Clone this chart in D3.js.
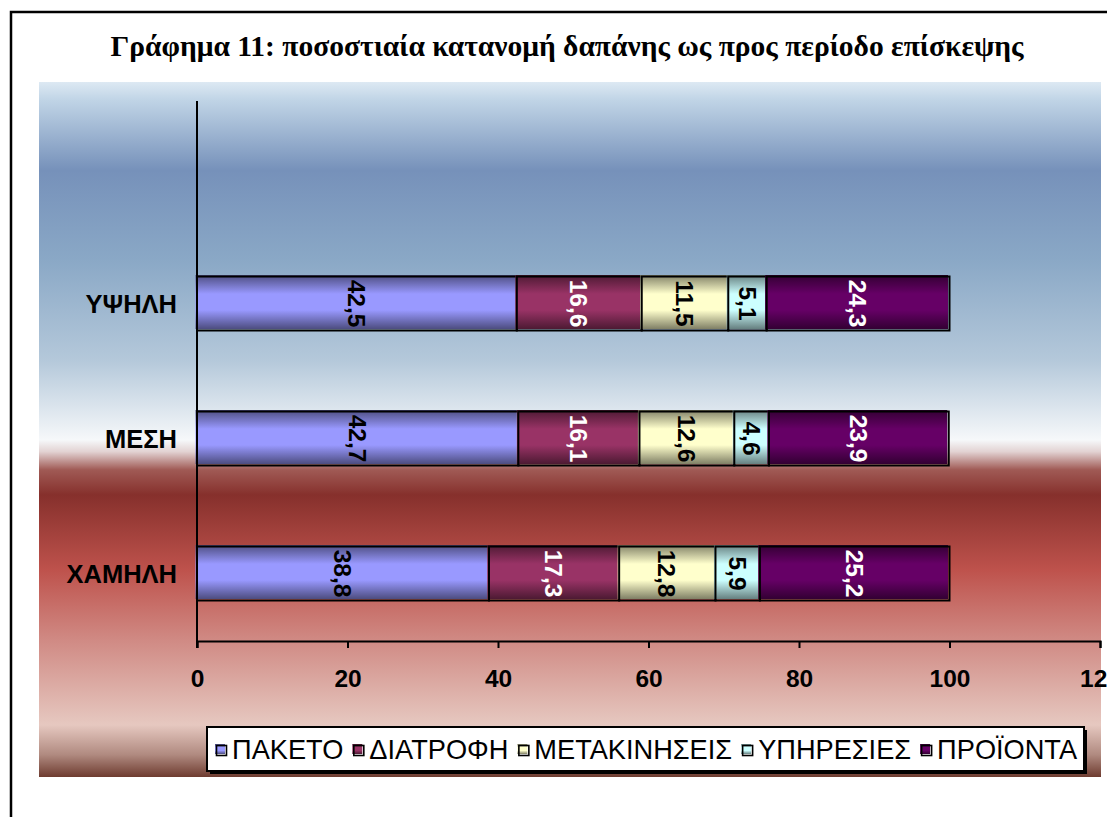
<!DOCTYPE html>
<html><head><meta charset="utf-8">
<script src="https://cdn.jsdelivr.net/npm/d3@7"></script>
<style>
html,body{margin:0;padding:0;background:#fff;overflow:hidden}
svg{display:block}
</style></head>
<body>
<svg id="chart" width="1107" height="817"></svg>
<script>
// ---- data ----
const title = "Γράφημα 11: ποσοστιαία κατανομή δαπάνης ως προς περίοδο επίσκεψης";
const categories = ["ΥΨΗΛΗ", "ΜΕΣΗ", "ΧΑΜΗΛΗ"];
const seriesNames = ["ΠΑΚΕΤΟ", "ΔΙΑΤΡΟΦΗ", "ΜΕΤΑΚΙΝΗΣΕΙΣ", "ΥΠΗΡΕΣΙΕΣ", "ΠΡΟΪΟΝΤΑ"];
const paketo       = [42.5, 42.7, 38.8];
const diatrofi     = [16.6, 16.1, 17.3];
const metakiniseis = [11.5, 12.6, 12.8];
const ypiresies    = [5.1, 4.6, 5.9];
const proionta     = [24.3, 23.9, 25.2];
const xTicks = [0, 20, 40, 60, 80, 100, 120];
const seriesColors = ["#9999FF", "#993366", "#FFFFCC", "#CCFFFF", "#660066"];
const labelColors = ["#000", "#fff", "#000", "#000", "#fff"];

const seriesValues = [paketo, diatrofi, metakiniseis, ypiresies, proionta];
const table = categories.map((c, i) => {
  const row = {cat: c};
  seriesNames.forEach((s, j) => row[s] = seriesValues[j][i]);
  return row;
});

const svg = d3.select("#chart");
const defs = svg.append("defs");

// background gradient
const bg = defs.append("linearGradient").attr("id", "bg").attr("x1", 0).attr("y1", 0).attr("x2", 0).attr("y2", 1);
[[0, "#dde9f3"], [0.026, "#c0d4e6"], [0.127, "#7691ba"], [0.256, "#8aa8c6"], [0.4, "#b4c8da"],
 [0.515, "#f6f8fa"], [0.532, "#e2d2d2"], [0.558, "#a05a55"], [0.594, "#86302c"], [0.702, "#be524c"],
 [0.803, "#d08a84"], [0.925, "#e6c8c0"], [0.968, "#b08a80"], [1, "#6e3c30"]]
  .forEach(([o, c]) => bg.append("stop").attr("offset", o).attr("stop-color", c));

// bar gradients
seriesColors.forEach((c, i) => {
  const g = defs.append("linearGradient").attr("id", "sg" + i).attr("x1", 0).attr("y1", 0).attr("x2", 0).attr("y2", 1);
  const dark = d3.interpolateRgb(c, "#000")(0.5);
  [[0, dark], [0.35, c], [0.65, c], [1, dark]].forEach(([o, col]) =>
    g.append("stop").attr("offset", o).attr("stop-color", col));
});

// outer frame
svg.append("rect").attr("x", 11).attr("y", 12).attr("width", 1120).attr("height", 830)
  .attr("fill", "#fff").attr("stroke", "#000").attr("stroke-width", 2.5);

// title
svg.append("text").attr("x", 567).attr("y", 56).attr("text-anchor", "middle")
  .attr("font-family", "'Liberation Serif','Times New Roman',serif").attr("font-weight", "bold")
  .attr("font-size", 29.5).text(title);

// plot background panel
svg.append("rect").attr("x", 39).attr("y", 82).attr("width", 1062).attr("height", 695).attr("fill", "url(#bg)");

// scales
const x = d3.scaleLinear().domain([0, 120]).range([197, 1100]);
const y = d3.scaleBand().domain([""].concat(categories)).range([101, 641]).paddingInner(0.6).paddingOuter(0.3);

const stack = d3.stack().keys(seriesNames);
const stacked = stack(table);

const font = "'Liberation Sans',Arial,sans-serif";
const fmt = v => d3.format(".1f")(v).replace(".", ",");

const gBars = svg.append("g");
stacked.forEach((layer, si) => {
  const g = gBars.append("g");
  layer.forEach(d => {
    const x0 = x(d[0]), x1 = x(d[1]), yy = y(d.data.cat), h = y.bandwidth();
    g.append("rect").attr("x", x0 - 1.5).attr("y", yy - 1.5).attr("width", x1 - x0).attr("height", h)
      .attr("fill", `url(#sg${si})`);
    g.append("rect").attr("x", x0).attr("y", yy).attr("width", x1 - x0).attr("height", h)
      .attr("fill", "none").attr("stroke", "#000").attr("stroke-width", 2);
  });
});
stacked.forEach((layer, si) => {
  layer.forEach(d => {
    const cx = (x(d[0]) + x(d[1])) / 2, cy = y(d.data.cat) + y.bandwidth() / 2;
    svg.append("text").attr("transform", `translate(${cx},${cy}) rotate(90)`)
      .attr("text-anchor", "middle").attr("dy", "0.36em")
      .attr("font-family", font).attr("font-weight", "bold").attr("font-size", 24.5)
      .attr("fill", labelColors[si]).text(fmt(d[1] - d[0]));
  });
});

// y axis line
svg.append("line").attr("x1", x(0)).attr("x2", x(0)).attr("y1", y.range()[0]).attr("y2", y.range()[1] + 7)
  .attr("stroke", "#000").attr("stroke-width", 2);

// category labels
categories.forEach(c => {
  svg.append("text").attr("x", x(0) - 20).attr("y", y(c) + y.bandwidth() / 2).attr("dy", "0.37em")
    .attr("text-anchor", "end").attr("font-family", font).attr("font-weight", "bold").attr("font-size", 25.5)
    .text(c);
});

// x axis
const xAxis = d3.axisBottom(x).tickValues(xTicks).tickFormat(d3.format("d")).tickSize(7).tickPadding(22);
const gx = svg.append("g").attr("transform", `translate(0,${y.range()[1]})`).call(xAxis);
gx.selectAll("path,line").attr("stroke", "#000").attr("stroke-width", 2);
gx.selectAll("text").attr("font-family", font).attr("font-weight", "bold").attr("font-size", 24.5).attr("fill", "#000");

// legend
const lg = svg.append("g");
lg.append("rect").attr("x", 210).attr("y", 730).attr("width", 877).attr("height", 44).attr("fill", "#000");
lg.append("rect").attr("x", 207).attr("y", 727).attr("width", 877).attr("height", 44)
  .attr("fill", "#fff").attr("stroke", "#000").attr("stroke-width", 2);
let cx = 215;
seriesNames.forEach((s, i) => {
  lg.append("rect").attr("x", cx).attr("y", 744).attr("width", 10).attr("height", 10).attr("fill", `url(#sg${i})`);
  lg.append("rect").attr("x", cx + 1.5).attr("y", 745.5).attr("width", 10).attr("height", 10)
    .attr("fill", "none").attr("stroke", "#000").attr("stroke-width", 1.6);
  const t = lg.append("text").attr("x", cx + 17).attr("y", 759).attr("font-family", font)
    .attr("font-size", 27.2).attr("fill", "#000").text(s);
  cx += 17 + t.node().getComputedTextLength() + 9;
});
</script>
</body></html>
